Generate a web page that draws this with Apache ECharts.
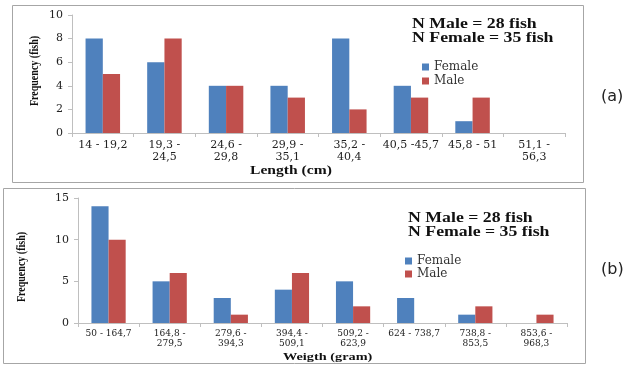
<!DOCTYPE html>
<html><head><meta charset="utf-8">
<script src="https://cdn.jsdelivr.net/npm/echarts@6/dist/echarts.min.js"></script>
<style>html,body{margin:0;padding:0;background:#fff}#c{width:624px;height:365px}</style>
</head><body><div id="c"></div>
<script>
const lengthCats = ['14 - 19,2', '19,3 -\n24,5', '24,6 -\n29,8', '29,9 -\n35,1', '35,2 -\n40,4', '40,5 -45,7', '45,8 - 51', '51,1 -\n56,3'];
const lengthFemale = [8, 6, 4, 4, 8, 4, 1, 0];
const lengthMale = [5, 8, 4, 3, 2, 3, 3, 0];
const weightCats = ['50 - 164,7', '164,8 -\n279,5', '279,6 -\n394,3', '394,4 -\n509,1', '509,2 -\n623,9', '624 - 738,7', '738,8 -\n853,5', '853,6 -\n968,3'];
const weightFemale = [14, 5, 3, 4, 5, 3, 1, 0];
const weightMale = [10, 6, 1, 6, 2, 0, 2, 1];
const lengthTicks = {min: 0, max: 10, interval: 2};
const weightTicks = {min: 0, max: 15, interval: 5};

const FONT = '"Liberation Serif", "Times New Roman", serif';
const WFONT = '"DejaVu Serif", serif';
const BLUE = '#4F81BD', RED = '#C0504D', AX = '#BFBFBF';

function xAxis(gi, cats, fs, lh, m) {
  return {type: 'category', gridIndex: gi, data: cats,
    axisLine: {lineStyle: {color: AX}}, axisTick: {show: true, alignWithLabel: false, length: 4, lineStyle: {color: AX}},
    axisLabel: {fontFamily: WFONT, fontSize: fs, color: '#222', lineHeight: lh, interval: 0, margin: m}};
}
function yAxis(gi, t, fs) {
  return {type: 'value', gridIndex: gi, min: t.min, max: t.max, interval: t.interval,
    splitLine: {show: false}, axisLine: {show: true, lineStyle: {color: AX}},
    axisTick: {show: true, length: 4, lineStyle: {color: AX}},
    axisLabel: {fontFamily: WFONT, fontSize: fs, color: '#222', margin: 9}};
}
function bar(name, data, gi, color) {
  return {type: 'bar', name: name, data: data, xAxisIndex: gi, yAxisIndex: gi,
    barGap: '0%', barCategoryGap: '44%', itemStyle: {color: color}, silent: true, animation: false};
}
function stxt(x, y, s, font, sx, fill) {
  return {type: 'text', x: x, y: y, scaleX: sx, scaleY: 1,
    style: {text: s, font: font, fill: fill || '#111', textAlign: 'left', textVerticalAlign: 'middle'}};
}
function ytitle(x, y) {
  return {type: 'text', x: x, y: y, rotation: Math.PI / 2, scaleX: 0.77, scaleY: 1,
    style: {text: 'Frequency (fish)', font: 'bold 13px ' + FONT, fill: '#111', textAlign: 'center', textVerticalAlign: 'middle'}};
}

const chart = echarts.init(document.getElementById('c'));
chart.setOption({
  animation: false,
  grid: [
    {left: 72, top: 15, width: 493, height: 118},
    {left: 78, top: 198, width: 489, height: 125}
  ],
  xAxis: [xAxis(0, lengthCats, 11, 12, 6), xAxis(1, weightCats, 9, 10, 6)],
  yAxis: [yAxis(0, lengthTicks, 11), yAxis(1, weightTicks, 11)],
  legend: [
    {data: ['Female', 'Male'], orient: 'vertical', left: 417, top: 56, itemWidth: 7, itemHeight: 7, itemGap: 2,
     icon: 'rect', textStyle: {fontFamily: WFONT, fontSize: 12, color: '#333'}, selectedMode: false},
    {data: ['Female', 'Male'], orient: 'vertical', left: 400, top: 250, itemWidth: 7, itemHeight: 7, itemGap: 1,
     icon: 'rect', textStyle: {fontFamily: WFONT, fontSize: 12, color: '#333'}, selectedMode: false}
  ],
  series: [
    bar('Female', lengthFemale, 0, BLUE), bar('Male', lengthMale, 0, RED),
    bar('Female', weightFemale, 1, BLUE), bar('Male', weightMale, 1, RED)
  ],
  graphic: [
    {type: 'rect', shape: {x: 12.5, y: 5.5, width: 571, height: 177}, style: {fill: 'none', stroke: '#A6A6A6', lineWidth: 1}},
    {type: 'rect', shape: {x: 3.5, y: 188.5, width: 582, height: 175}, style: {fill: 'none', stroke: '#A6A6A6', lineWidth: 1}},
    stxt(412, 24, 'N Male = 28 fish', 'bold 14px ' + FONT, 1.27),
    stxt(412, 38, 'N Female = 35 fish', 'bold 14px ' + FONT, 1.27),
    stxt(408, 218, 'N Male = 28 fish', 'bold 14px ' + FONT, 1.27),
    stxt(408, 232, 'N Female = 35 fish', 'bold 14px ' + FONT, 1.27),
    stxt(250, 171, 'Length (cm)', 'bold 12px ' + FONT, 1.3),
    stxt(283, 357, 'Weigth (gram)', 'bold 11px ' + FONT, 1.3),
    ytitle(35, 71),
    ytitle(22, 267),
    stxt(601, 97, '(a)', '16px "DejaVu Sans", sans-serif', 1, '#222'),
    stxt(601, 270, '(b)', '16px "DejaVu Sans", sans-serif', 1, '#222')
  ]
});
</script></body></html>
